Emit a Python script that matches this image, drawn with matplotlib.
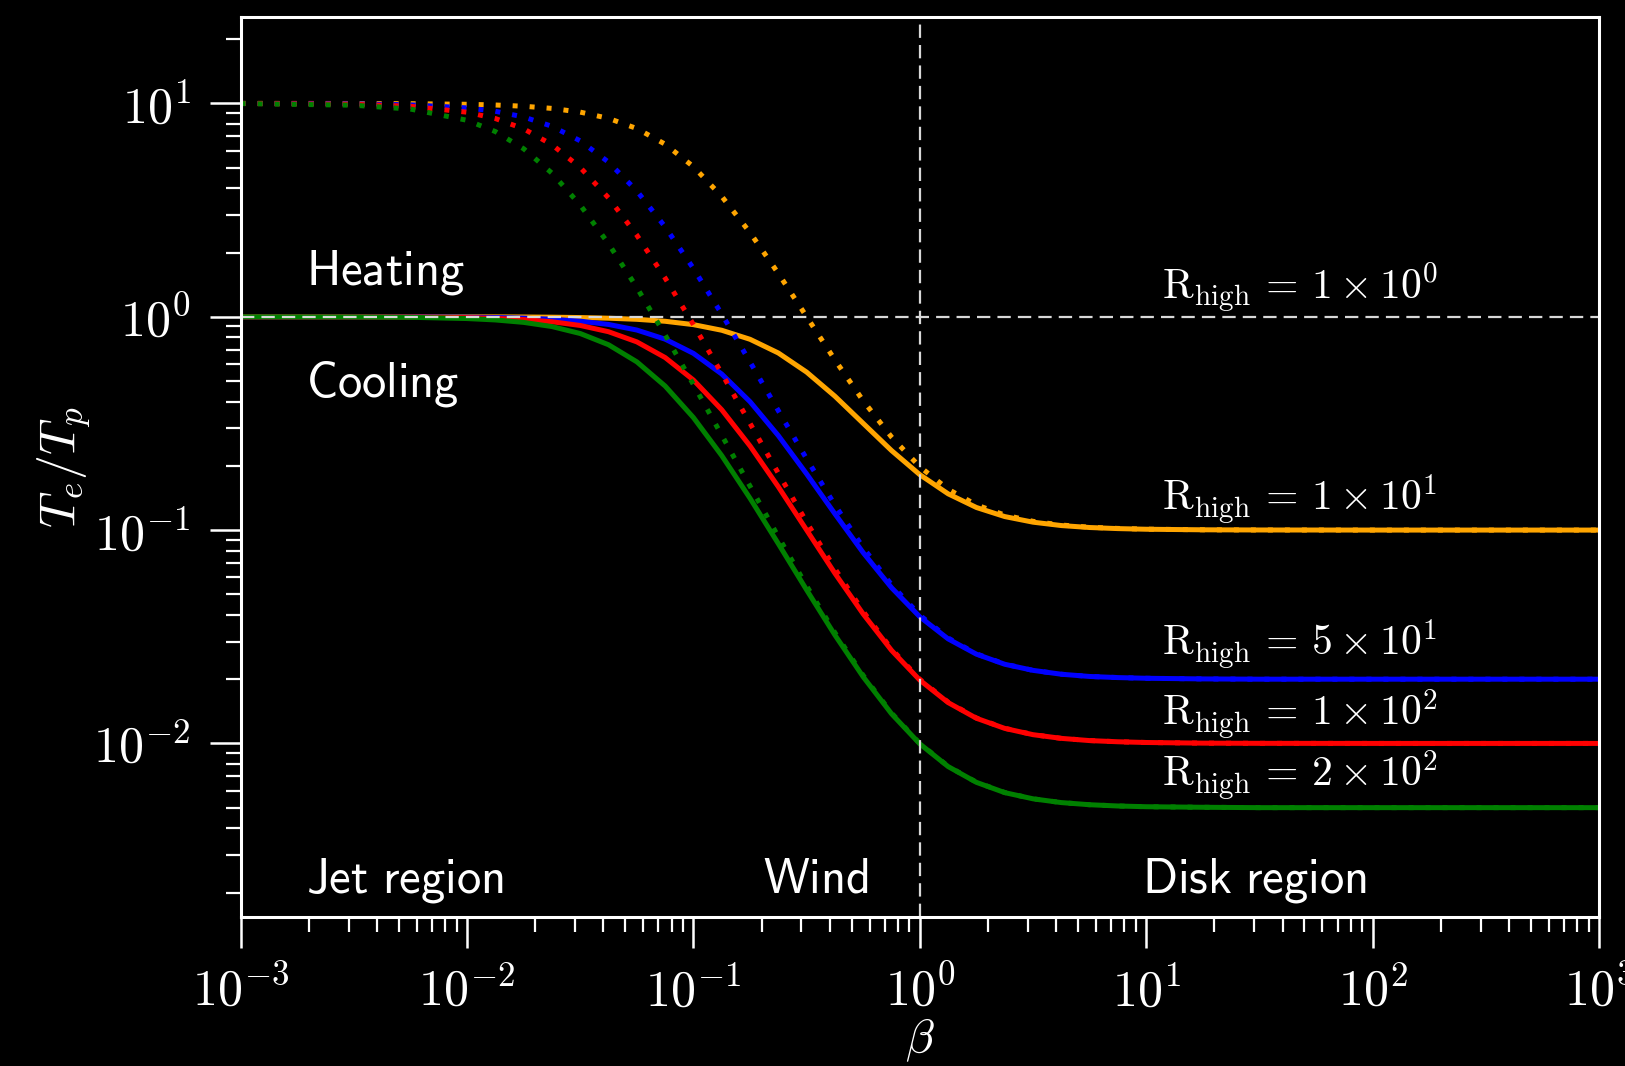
import math
import matplotlib
matplotlib.use("Agg")
import matplotlib.pyplot as plt
from matplotlib.ticker import FuncFormatter

plt.rcParams['mathtext.fontset'] = 'cm'
plt.rcParams['font.family'] = 'serif'

# beta sample points (log10) and temperature ratios Te/Tp
log_beta = [-3, -2.5, -2.25, -2, -1.875, -1.75, -1.625, -1.5, -1.375, -1.25, -1.125,
            -1, -0.875, -0.75, -0.625, -0.5, -0.375, -0.25, -0.125, 0, 0.125, 0.25,
            0.375, 0.5, 0.625, 0.75, 0.875, 1, 1.25, 1.5, 2, 3]
beta = [10 ** e for e in log_beta]

# solid: R_low = 1
solid_r10 = [1.0, 0.9999, 0.9997, 0.9991, 0.9984, 0.9972, 0.995, 0.9911, 0.9843,
             0.9724, 0.9521, 0.9182, 0.8641, 0.7838, 0.6761, 0.55, 0.424, 0.3162,
             0.2359, 0.1818, 0.1479, 0.1276, 0.1157, 0.1089, 0.105, 0.1028, 0.1016,
             0.1009, 0.1003, 0.1001, 0.1, 0.1]
solid_r50 = [1.0, 0.9995, 0.9985, 0.9951, 0.9914, 0.9848, 0.9732, 0.9533, 0.92,
             0.8662, 0.7849, 0.6733, 0.5388, 0.3997, 0.2771, 0.1833, 0.1191, 0.0783,
             0.0537, 0.0392, 0.0309, 0.0262, 0.0235, 0.022, 0.0211, 0.0206, 0.02035,
             0.0202, 0.02006, 0.02, 0.02, 0.02]
solid_r100 = [0.9999, 0.999, 0.9969, 0.9902, 0.9827, 0.9697, 0.9473, 0.91, 0.8506,
              0.7622, 0.6437, 0.505, 0.3664, 0.2479, 0.1595, 0.1, 0.0627, 0.0404,
              0.0273, 0.0198, 0.01554, 0.01312, 0.01176, 0.01099, 0.01056, 0.01031,
              0.01018, 0.0101, 0.01003, 0.01001, 0.01, 0.01]
solid_r200 = [0.9998, 0.998, 0.9938, 0.9805, 0.9658, 0.9408, 0.8994, 0.8342, 0.739,
              0.6145, 0.4733, 0.3367, 0.2234, 0.1409, 0.0863, 0.0524, 0.0322, 0.0205,
              0.01377, 0.00995, 0.00779, 0.00657, 0.00588, 0.0055, 0.00528, 0.00516,
              0.00509, 0.00505, 0.00502, 0.005, 0.005, 0.005]

# dotted: R_low = 0.1
dot_r10 = [10.0, 9.99, 9.969, 9.902, 9.827, 9.697, 9.473, 9.1, 8.506, 7.622, 6.437,
           5.05, 3.664, 2.479, 1.595, 1.0, 0.6272, 0.4035, 0.273, 0.198, 0.1554,
           0.1312, 0.1176, 0.1099, 0.1056, 0.1031, 0.1018, 0.101, 0.1003, 0.1001,
           0.1, 0.1]
dot_r50 = [9.995, 9.95, 9.845, 9.525, 9.185, 8.638, 7.81, 6.673, 5.303, 3.887, 2.638,
           1.683, 1.029, 0.6137, 0.3628, 0.2157, 0.131, 0.0827, 0.0554, 0.0399,
           0.0312, 0.0263, 0.02355, 0.022, 0.0211, 0.0206, 0.02036, 0.0202, 0.02006,
           0.02, 0.02, 0.02]
dot_r100 = [9.99, 9.901, 9.694, 9.092, 8.492, 7.6, 6.404, 5.005, 3.606, 2.41, 1.518,
            0.9182, 0.542, 0.3163, 0.1846, 0.1089, 0.0659, 0.0415, 0.0277, 0.01998,
            0.01562, 0.01316, 0.01178, 0.011, 0.01056, 0.01032, 0.01018, 0.0101,
            0.01003, 0.01001, 0.01, 0.01]
dot_r200 = [9.98, 9.804, 9.405, 8.334, 7.378, 6.128, 4.709, 3.337, 2.199, 1.37,
            0.8212, 0.481, 0.2784, 0.1606, 0.0931, 0.0547, 0.033, 0.0208, 0.01388,
            0.00999, 0.00781, 0.00658, 0.00589, 0.0055, 0.00528, 0.00516, 0.00509,
            0.00505, 0.00502, 0.005, 0.005, 0.005]

colors = ['orange', 'blue', 'red', 'green']
solid = [solid_r10, solid_r50, solid_r100, solid_r200]
dotted = [dot_r10, dot_r50, dot_r100, dot_r200]

r_labels = [r'$\mathrm{R_{high}}\,=\,1 \times 10^{0}$',
            r'$\mathrm{R_{high}}\,=\,1 \times 10^{1}$',
            r'$\mathrm{R_{high}}\,=\,5 \times 10^{1}$',
            r'$\mathrm{R_{high}}\,=\,1 \times 10^{2}$',
            r'$\mathrm{R_{high}}\,=\,2 \times 10^{2}$']
r_label_y = [1.21, 0.124, 0.0259, 0.0122, 0.00627]

fig = plt.figure(figsize=(16.25, 10.66), dpi=100, facecolor='black')
ax = fig.add_axes([0.1481, 0.1400, 0.8359, 0.8437], facecolor='black')

for c, ys, yd in zip(colors, solid, dotted):
    ax.plot(beta, ys, color=c, lw=3.6, solid_capstyle='butt')
    ax.plot(beta, yd, color=c, lw=3.6, linestyle=(0, (1, 2.4)))

ax.axhline(1.0, color='#d8d8d8', lw=1.6, dashes=(6, 3.2))
ax.axvline(1.0, color='#d8d8d8', lw=1.6, dashes=(6, 3.2))

ax.set_xscale('log')
ax.set_yscale('log')
ax.set_xlim(1e-3, 1e3)
ax.set_ylim(1.54e-3, 25.3)

log_fmt = FuncFormatter(lambda v, pos: r'$10^{%d}$' % round(math.log10(v)))
ax.xaxis.set_major_formatter(log_fmt)
ax.yaxis.set_major_formatter(log_fmt)

for lab, y in zip(r_labels, r_label_y):
    ax.text(11.8, y, lab, color='white', fontsize=30, va='baseline', ha='left')

ax.text(0.00195, 1.41, r'$\mathsf{Heating}$', color='white', fontsize=35, va='baseline')
ax.text(0.00195, 0.422, r'$\mathsf{Cooling}$', color='white', fontsize=35, va='baseline')
ax.text(0.00195, 0.002, r'$\mathsf{Jet\ region}$', color='white', fontsize=35, va='baseline')
ax.text(0.202, 0.002, r'$\mathsf{Wind}$', color='white', fontsize=35, va='baseline')
ax.text(9.6, 0.002, r'$\mathsf{Disk\ region}$', color='white', fontsize=35, va='baseline')

ax.set_xlabel(r'$\beta$', color='white', fontsize=34, labelpad=0)
ax.set_ylabel(r'$T_e/T_p$', color='white', fontsize=36, labelpad=0)

for s in ax.spines.values():
    s.set_color('white')
    s.set_linewidth(2.2)
ax.tick_params(which='major', length=22, width=1.8, colors='white', labelsize=36, pad=14)
ax.tick_params(which='minor', length=11, width=1.6, colors='white')

fig.savefig('out.png', dpi=100, facecolor='black')
